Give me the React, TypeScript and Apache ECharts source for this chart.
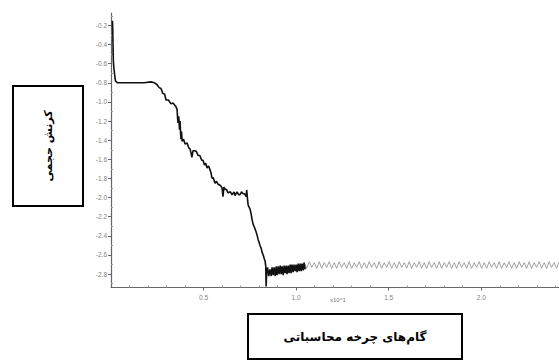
import React, { useEffect, useRef } from "react";
import * as echarts from "echarts";

// Black trace (computation steps x10, volumetric strain)
const blackX = [
  0.008, 0.010, 0.009, 0.011, 0.010, 0.012, 0.011, 0.013, 0.016, 0.020, 0.024, 0.035, 0.100, 0.180, 0.215, 0.235,
  0.249, 0.260, 0.270, 0.280, 0.290, 0.297, 0.310, 0.324, 0.335, 0.351, 0.357, 0.360, 0.362, 0.366, 0.370, 0.373,
  0.376, 0.378, 0.381, 0.384, 0.392, 0.400, 0.411, 0.420, 0.427, 0.433, 0.437, 0.443, 0.454, 0.462, 0.470, 0.480,
  0.490, 0.497, 0.505, 0.512, 0.519, 0.527, 0.535, 0.540, 0.546, 0.552, 0.562, 0.570, 0.578, 0.590, 0.600, 0.605,
  0.610, 0.616, 0.625, 0.632, 0.645, 0.654, 0.665, 0.670, 0.681, 0.690, 0.697, 0.705, 0.714, 0.722, 0.730, 0.733,
  0.738, 0.741, 0.746, 0.751, 0.757, 0.762, 0.768, 0.775, 0.784, 0.790, 0.795, 0.800, 0.805, 0.811, 0.816, 0.822,
  0.828, 0.832, 0.836, 0.838, 0.840, 0.841, 0.846,
  0.852, 0.859, 0.865, 0.870, 0.876, 0.881, 0.887, 0.892, 0.897, 0.903, 0.908, 0.914, 0.919, 0.924, 0.930, 0.935,
  0.941, 0.946, 0.951, 0.957, 0.962, 0.968, 0.973, 0.978, 0.984, 0.989, 0.995, 1.000, 1.005, 1.011, 1.016, 1.022,
  1.027, 1.032, 1.038, 1.043, 1.049,
];
const blackY = [
  -0.15, -0.28, -0.22, -0.38, -0.33, -0.48, -0.44, -0.58, -0.65, -0.72, -0.78, -0.80, -0.80, -0.80, -0.79, -0.80,
  -0.82, -0.85, -0.86, -0.91, -0.92, -0.98, -0.98, -1.02, -1.01, -1.05, -1.08, -1.18, -1.22, -1.15, -1.29, -1.20,
  -1.33, -1.39, -1.31, -1.41, -1.39, -1.44, -1.43, -1.48, -1.49, -1.54, -1.58, -1.51, -1.51, -1.52, -1.56, -1.56,
  -1.61, -1.61, -1.66, -1.64, -1.69, -1.67, -1.71, -1.74, -1.80, -1.79, -1.85, -1.83, -1.86, -1.87, -1.90, -1.99,
  -1.89, -1.91, -1.92, -1.95, -1.94, -1.97, -1.94, -1.98, -1.94, -1.97, -1.97, -1.94, -1.96, -1.96, -1.99, -1.92,
  -2.03, -2.08, -2.10, -2.12, -2.17, -2.23, -2.28, -2.31, -2.36, -2.40, -2.44, -2.47, -2.50, -2.53, -2.57, -2.60,
  -2.64, -2.66, -2.72, -2.93, -2.93, -2.78, -2.73,
  -2.82, -2.75, -2.82, -2.73, -2.81, -2.73, -2.82, -2.72, -2.81, -2.72, -2.80, -2.71, -2.80, -2.72, -2.81, -2.71,
  -2.79, -2.71, -2.80, -2.71, -2.79, -2.70, -2.79, -2.70, -2.78, -2.70, -2.77, -2.70, -2.78, -2.69, -2.77, -2.69,
  -2.77, -2.69, -2.76, -2.68, -2.75,
];

// Gray trace (steady oscillation)
const grayX = [
  1.030, 1.044, 1.057, 1.071, 1.084, 1.098, 1.111, 1.125, 1.138, 1.152, 1.165, 1.179, 1.192, 1.206, 1.219, 1.233,
  1.246, 1.260, 1.273, 1.287, 1.300, 1.314, 1.327, 1.341, 1.354, 1.368, 1.381, 1.395, 1.408, 1.422, 1.435, 1.449,
  1.462, 1.476, 1.489, 1.503, 1.516, 1.530, 1.543, 1.557, 1.570, 1.584, 1.597, 1.611, 1.624, 1.638, 1.651, 1.665,
  1.678, 1.692, 1.705, 1.719, 1.732, 1.746, 1.759, 1.773, 1.786, 1.800, 1.813, 1.827, 1.840, 1.854, 1.867, 1.881,
  1.894, 1.908, 1.921, 1.935, 1.948, 1.962, 1.975, 1.989, 2.002, 2.016, 2.029, 2.043, 2.056, 2.070, 2.083, 2.097,
  2.110, 2.124, 2.137, 2.151, 2.164, 2.178, 2.191, 2.205, 2.218, 2.232, 2.245, 2.259, 2.272, 2.286, 2.299, 2.313,
  2.326, 2.340, 2.353, 2.367, 2.380, 2.394, 2.407, 2.421, 2.434,
];
const grayY = [
  -2.74, -2.68, -2.74, -2.67, -2.73, -2.68, -2.74, -2.67, -2.74, -2.68, -2.73, -2.67, -2.74, -2.68, -2.74, -2.67,
  -2.73, -2.68, -2.74, -2.67, -2.74, -2.68, -2.73, -2.67, -2.74, -2.68, -2.74, -2.67, -2.73, -2.68, -2.74, -2.67,
  -2.74, -2.68, -2.73, -2.67, -2.74, -2.68, -2.74, -2.67, -2.73, -2.68, -2.74, -2.67, -2.74, -2.68, -2.73, -2.67,
  -2.74, -2.68, -2.74, -2.67, -2.73, -2.68, -2.74, -2.67, -2.74, -2.68, -2.73, -2.67, -2.74, -2.68, -2.74, -2.67,
  -2.73, -2.68, -2.74, -2.67, -2.74, -2.68, -2.73, -2.67, -2.74, -2.68, -2.74, -2.67, -2.73, -2.68, -2.74, -2.67,
  -2.74, -2.68, -2.73, -2.67, -2.74, -2.68, -2.74, -2.67, -2.73, -2.68, -2.74, -2.67, -2.74, -2.68, -2.73, -2.67,
  -2.74, -2.68, -2.74, -2.67, -2.73, -2.68, -2.74, -2.67, -2.74,
];

const yTickLabels = [-0.2, -0.4, -0.6, -0.8, -1.0, -1.2, -1.4, -1.6, -1.8, -2.0, -2.2, -2.4, -2.6, -2.8];
const yMinorTicks = [-0.1, -0.3, -0.5, -0.7, -0.9, -1.1, -1.3, -1.5, -1.7, -1.9, -2.1, -2.3, -2.5, -2.7, -2.9];
const xTickLabels = [0.5, 1.0, 1.5, 2.0];
const xMinorTicks = [0.1, 0.2, 0.3, 0.4, 0.6, 0.7, 0.8, 0.9, 1.1, 1.2, 1.3, 1.4, 1.6, 1.7, 1.8, 1.9, 2.1, 2.2, 2.3, 2.4];

const yTitle = "کرنش حجمی";
const xTitle = "گام‌های چرخه محاسباتی";
const xScaleNote = "x10^1";

export default function App() {
  const ref = useRef<HTMLDivElement>(null);
  useEffect(() => {
    if (!ref.current) return;
    const chart = echarts.init(ref.current, null, { renderer: "svg" });
    const axisColor = "#666";
    const labelStyle = { color: "#808080", fontSize: 6.5, fontFamily: "Liberation Sans, Arial, sans-serif" };
    chart.setOption({
      animation: false,
      backgroundColor: "#fff",
      grid: { left: 111, top: 13, right: 0, bottom: 72.5, containLabel: false },
      xAxis: [
        {
          type: "value",
          min: 0,
          max: 2.42,
          axisLine: { lineStyle: { color: axisColor, width: 1.2 } },
          axisTick: { customValues: xTickLabels, length: 3, inside: false, lineStyle: { color: axisColor } },
          axisLabel: {
            customValues: xTickLabels,
            formatter: (v: number) => v.toFixed(1),
            margin: 6,
            ...labelStyle,
          },
          splitLine: { show: false },
        },
        {
          type: "value",
          position: "bottom",
          min: 0,
          max: 2.42,
          axisLine: { show: false },
          axisTick: { customValues: xMinorTicks, length: 2, inside: true, lineStyle: { color: "#999" } },
          axisLabel: { show: false },
          splitLine: { show: false },
        },
      ],
      yAxis: [
        {
          type: "value",
          min: -2.94,
          max: -0.07,
          axisLine: { show: true, lineStyle: { color: axisColor, width: 1.2 } },
          axisTick: { customValues: yTickLabels, length: 3, inside: false, lineStyle: { color: axisColor } },
          axisLabel: {
            customValues: yTickLabels,
            formatter: (v: number) => v.toFixed(1),
            margin: 4,
            ...labelStyle,
          },
          splitLine: { show: false },
        },
        {
          type: "value",
          position: "left",
          min: -2.94,
          max: -0.07,
          axisLine: { show: false },
          axisTick: { customValues: yMinorTicks, length: 2, inside: true, lineStyle: { color: "#999" } },
          axisLabel: { show: false },
          splitLine: { show: false },
        },
      ],
      series: [
        {
          type: "line",
          data: grayX.map((x, i) => [x, grayY[i]]),
          showSymbol: false,
          lineStyle: { color: "#8a8a8a", width: 0.8 },
          z: 2,
        },
        {
          type: "line",
          data: blackX.map((x, i) => [x, blackY[i]]),
          showSymbol: false,
          lineStyle: { color: "#111", width: 1.6 },
          z: 3,
        },
      ],
      graphic: [
        {
          type: "text",
          left: 330,
          top: 297,
          style: { text: xScaleNote, fill: "#777", fontSize: 6, fontFamily: "Liberation Sans, Arial, sans-serif" },
        },
        {
          type: "rect",
          shape: { x: 13, y: 86, width: 70, height: 120 },
          style: { fill: "#fff", stroke: "#000", lineWidth: 2 },
        },
        {
          type: "text",
          x: 48,
          y: 146,
          rotation: Math.PI / 2,
          style: {
            text: yTitle,
            fill: "#000",
            fontSize: 11,
            fontWeight: "bold",
            fontFamily: "DejaVu Sans, sans-serif",
            align: "center",
            verticalAlign: "middle",
          },
        },
        {
          type: "rect",
          shape: { x: 248, y: 314, width: 214, height: 45 },
          style: { fill: "#fff", stroke: "#000", lineWidth: 2 },
        },
        {
          type: "text",
          x: 355,
          y: 337,
          style: {
            text: xTitle,
            fill: "#000",
            fontSize: 12,
            fontWeight: "bold",
            fontFamily: "DejaVu Sans, sans-serif",
            align: "center",
            verticalAlign: "middle",
          },
        },
      ],
    });
    return () => chart.dispose();
  }, []);
  return <div ref={ref} style={{ width: 559, height: 360, position: "absolute", left: 0, top: 0 }} />;
}
